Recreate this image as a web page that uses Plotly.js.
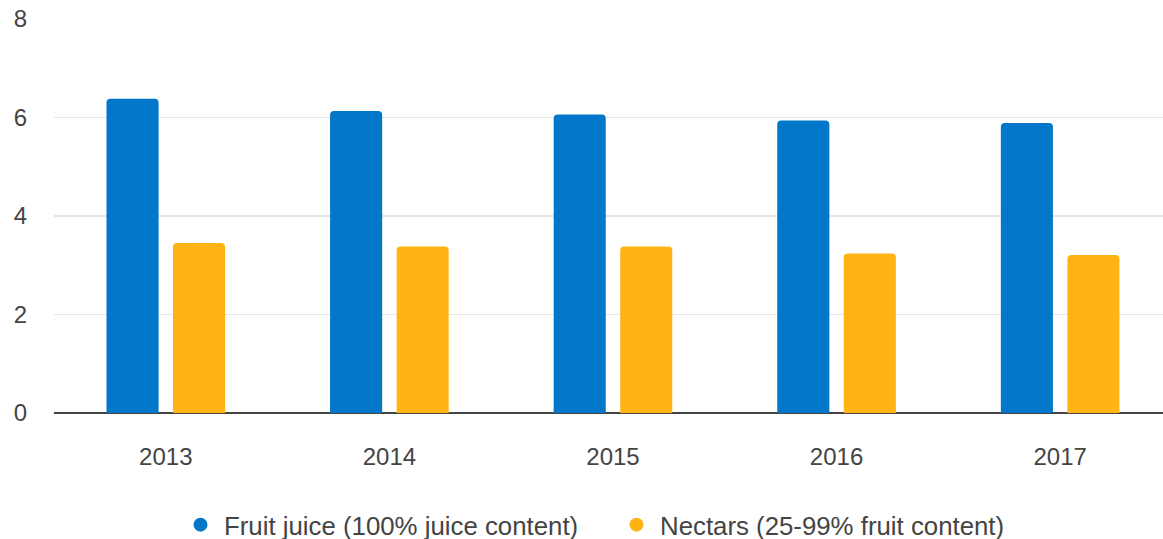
<!DOCTYPE html>
<html>
<head>
<meta charset="utf-8">
<script src="https://cdn.plot.ly/plotly-3.0.1.min.js"></script>
<style>html,body{margin:0;padding:0;background:#fff;}#chart{width:1163px;height:539px;}</style>
</head>
<body>
<div id="chart"></div>
<script>
const years = ["2013", "2014", "2015", "2016", "2017"];
const fruitJuice = [6.38, 6.13, 6.06, 5.94, 5.89];
const nectars = [3.45, 3.38, 3.38, 3.24, 3.21];
const seriesNames = ["Fruit juice (100% juice content)", "Nectars (25-99% fruit content)"];
const colors = ["#0077c8", "#ffb414"];

const traces = [
  {type: "bar", x: years, y: fruitJuice, name: seriesNames[0], legendgroup: "a", showlegend: false,
   marker: {color: colors[0], cornerradius: 4}, hoverinfo: "y"},
  {type: "bar", x: years, y: nectars, name: seriesNames[1], legendgroup: "b", showlegend: false,
   marker: {color: colors[1], cornerradius: 4}, hoverinfo: "y"},
  {type: "scatter", mode: "markers", x: [null], y: [null], name: seriesNames[0], legendgroup: "a",
   legend: "legend", marker: {color: colors[0], size: 16, symbol: "circle", line: {color: colors[0], width: 3}}},
  {type: "scatter", mode: "markers", x: [null], y: [null], name: seriesNames[1], legendgroup: "b",
   legend: "legend2", marker: {color: colors[1], size: 16, symbol: "circle", line: {color: colors[1], width: 3}}}
];

const legendCommon = {orientation: "h", xref: "container", yref: "paper", xanchor: "left",
  y: -0.284, yanchor: "middle", font: {size: 25.8, color: "#444"}, itemsizing: "constant",
  itemwidth: 37, bgcolor: "rgba(0,0,0,0)"};

const layout = {
  width: 1163, height: 539,
  margin: {l: 54, r: 0, t: 19, b: 126, autoexpand: false},
  paper_bgcolor: "#fff", plot_bgcolor: "#fff",
  font: {family: "Liberation Sans, Arial, sans-serif", size: 24, color: "#444"},
  bargap: 0.405, bargroupgap: 0.217, barmode: "group",
  xaxis: {type: "category", range: [-0.5, 4.46], showgrid: false, zeroline: false, showline: false,
          ticks: "", ticklabelstandoff: 27, tickfont: {size: 24, color: "#444"}, fixedrange: true},
  yaxis: {range: [0, 8], tickvals: [0, 2, 4, 6, 8], showgrid: true, gridcolor: "#e6e6e6", gridwidth: 1.5,
          zeroline: true, zerolinecolor: "#444", zerolinewidth: 1.5, showline: false, ticks: "",
          ticklabelstandoff: 26, tickfont: {size: 24, color: "#444"}, fixedrange: true},
  showlegend: true,
  legend: Object.assign({}, legendCommon, {x: 177 / 1163}),
  legend2: Object.assign({}, legendCommon, {x: 613 / 1163})
};

Plotly.newPlot("chart", traces, layout, {displayModeBar: false, staticPlot: true});
</script>
</body>
</html>
